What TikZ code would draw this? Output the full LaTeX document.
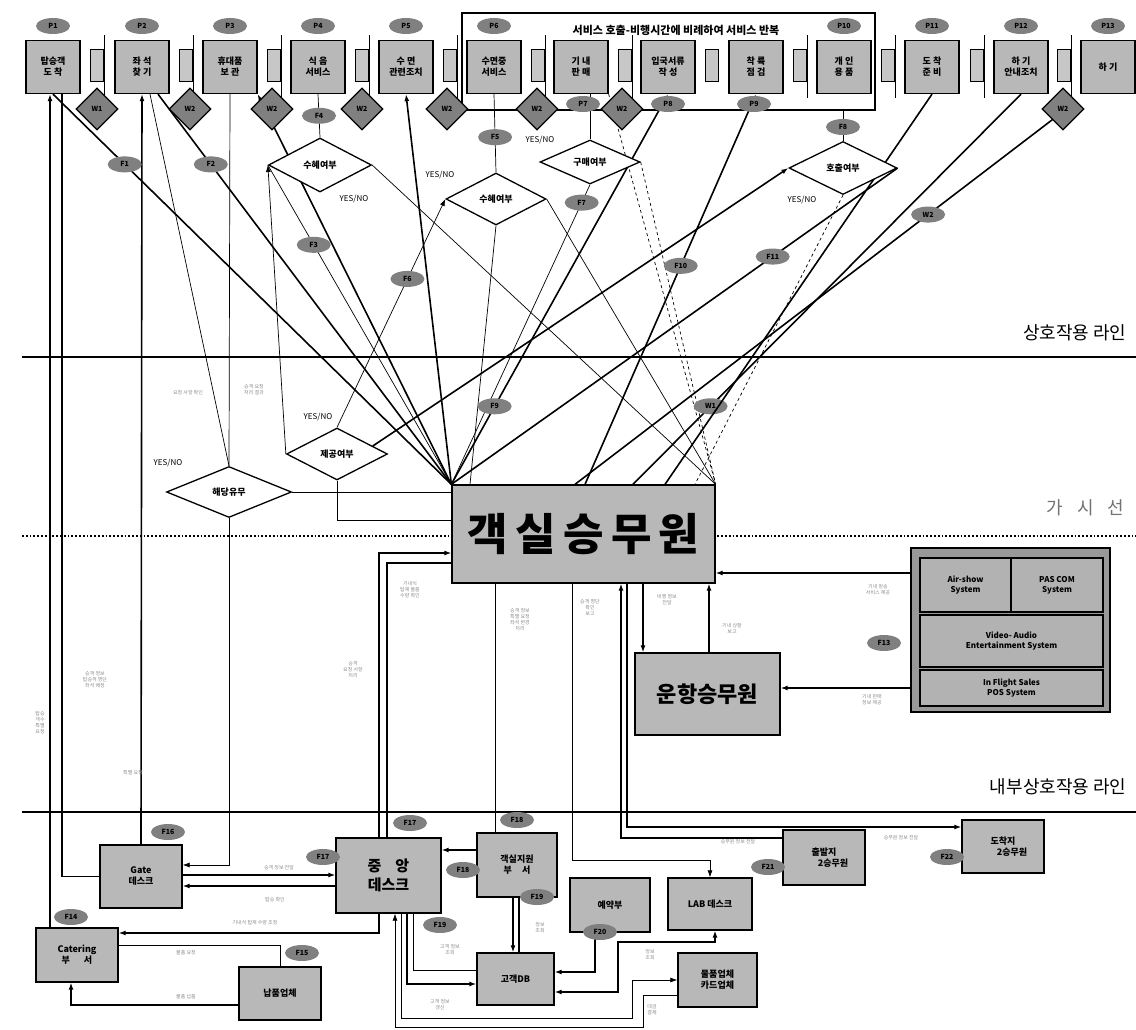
\documentclass[tikz,border=0pt]{standalone}
\usepackage{fontspec}
\setmainfont{Noto Sans CJK KR}
\usetikzlibrary{arrows.meta,calc,positioning,shapes.geometric}
\pgfdeclarelayer{back}
\pgfsetlayers{back,main}

\tikzset{
  procbox/.style={draw,line width=1.3pt,fill=black!28,align=center,inner sep=1pt,
    font=\fontsize{9}{11}\selectfont\bfseries},
  codeblob/.style={ellipse,fill=black!50,inner sep=0.5pt,minimum width=34,minimum height=16,
    font=\fontsize{7}{7}\selectfont\bfseries},
  waitdia/.style={diamond,draw,line width=1.2pt,fill=black!50,minimum size=42,inner sep=0pt,
    font=\fontsize{7}{7}\selectfont\bfseries},
  waitbar/.style={draw,line width=1pt,fill=black!22,minimum width=13,minimum height=32,inner sep=0pt},
  decide/.style={diamond,draw,line width=1.3pt,fill=white,aspect=2,inner sep=0pt,
    font=\fontsize{9}{10}\selectfont\bfseries},
  sysbox/.style={draw,line width=1.2pt,fill=black!30,align=center,inner sep=1pt,
    font=\fontsize{8}{10}\selectfont\bfseries},
  yesno/.style={font=\fontsize{8}{8}\selectfont},
  faint/.style={text=black!45,align=center,font=\fontsize{5}{6}\selectfont},
  lanelabel/.style={anchor=east,font=\fontsize{18}{18}\selectfont},
  flow/.style={line width=0.7pt},
  heavy/.style={line width=1.6pt},
  lane/.style={line width=2pt},
}

\begin{document}
\begin{tikzpicture}[x=1pt,y=-1pt,>={Latex[length=7pt,width=5pt]}]
\useasboundingbox (0,0) rectangle (1136,1030);

% service steps
\draw[line width=1.5pt] (462,13) rectangle (875,110);
\node[font=\fontsize{11}{12}\selectfont\bfseries] (repeat) at (676,30) {서비스 호출-비행시간에 비례하여 서비스 반복};
\foreach \n/\x/\t in {1/53/{탑승객\\도 착},2/142/{좌 석\\찾 기},3/230/{휴대품\\보 관},4/318/{식 음\\서비스},
    5/406/{수 면\\관련조치},6/494/{수면중\\서비스},7/581/{기 내\\판 매},8/668/{입국서류\\작 성},
    9/756/{착 륙\\점 검},10/844/{개 인\\용 품},11/932/{도 착\\준 비},12/1021/{하 기\\안내조치},13/1108/{하 기}}
  \node[procbox,minimum width=54,minimum height=53] (b\n) at (\x,67) {\t};
\foreach \n/\x in {1/53,2/142,3/230,4/318,5/406,6/494,10/844,11/932,12/1021,13/1108}
  \node[codeblob] (p\n) at (\x,26) {P\n};
\foreach \n/\x in {7/583,8/668,9/754}
  \node[codeblob] (p\n) at (\x,104) {P\n};
\foreach \n/\x in {1/97,2/186,3/274,4/362,5/450,6/538,7/625,8/712,9/800,10/888,11/977,12/1064}
  \node[waitbar] (wb\n) at (\x,66) {};
\foreach \n in {1,...,7,9,10,11,12}
  \draw[line width=1pt] ([yshift=14pt]wb\n.north east) -- ([yshift=-16pt]wb\n.south east);
\node[waitdia] (wd1) at (97,109) {W1};
\foreach \n/\x in {2/190,3/272,4/362,5/447,6/537,7/622,12/1063}
  \node[waitdia] (wd\n) at (\x,109) {W2};

% decisions
\node[decide,minimum width=103,minimum height=54] (sh1) at (320,165) {수혜여부};
\node[decide,minimum width=100,minimum height=52] (sh2) at (496,199) {수혜여부};
\node[decide,minimum width=100,minimum height=44] (buy) at (590,162) {구매여부};
\node[decide,minimum width=108,minimum height=53] (call) at (843,168) {호출여부};
\node[decide,minimum width=101,minimum height=52] (offer) at (337,454) {제공여부};
\node[decide,minimum width=125,minimum height=51] (match) at (229,492) {해당유무};
\node[yesno] (yn1) at (354,199) {YES/NO};
\node[yesno] (yn2) at (440,175) {YES/NO};
\node[yesno] (yn3) at (540,140) {YES/NO};
\node[yesno] (yn4) at (802,200) {YES/NO};
\node[yesno] (yn5) at (318,417) {YES/NO};
\node[yesno] (yn6) at (168,463) {YES/NO};

% crew and systems
\node[procbox,minimum width=263,minimum height=98,font=\fontsize{44}{48}\selectfont\bfseries] (cabin) at (583.5,534) {객\,실\,승\,무\,원};
\node[procbox,minimum width=145,minimum height=82,font=\fontsize{22}{24}\selectfont\bfseries] (pilot) at (707.5,694) {운항승무원};
\node[draw,line width=1.4pt,fill=black!40,minimum width=199,minimum height=164] (sys) at (1010.5,630) {};
\node[sysbox,minimum width=91,minimum height=54] (airshow) at (965.5,585) {Air-show\\System};
\node[sysbox,minimum width=92,minimum height=54] (pascom) at (1057,585) {PAS COM\\System};
\node[sysbox,minimum width=183,minimum height=52] (video) at (1011.5,641) {Video- Audio\\Entertainment System};
\node[sysbox,minimum width=183,minimum height=36] (sales) at (1011.5,688) {In Flight Sales\\POS System};
\node[codeblob] (f13) at (884,643) {F13};

% back office
\node[procbox,minimum width=82,minimum height=63] (gate) at (141,876.5) {Gate\\데스크};
\node[procbox,minimum width=105,minimum height=75,font=\fontsize{15}{19}\selectfont\bfseries] (central) at (388.5,875.5) {중\hspace{14pt}앙\\데스크};
\node[procbox,minimum width=80,minimum height=64] (cabsup) at (517,865) {객실지원\\부\hspace{10pt}서};
\node[procbox,minimum width=82,minimum height=54] (catering) at (77,955) {Catering\\부\hspace{14pt}서};
\node[procbox,minimum width=82,minimum height=53] (supplier) at (280,993.5) {납품업체};
\node[procbox,minimum width=77,minimum height=52] (custdb) at (515.5,979) {고객DB};
\node[procbox,minimum width=80,minimum height=54] (reserve) at (610,905) {예약부};
\node[procbox,minimum width=84,minimum height=52] (lab) at (710,904) {LAB 데스크};
\node[procbox,minimum width=79,minimum height=54] (vendor) at (717.5,980) {물품업체\\카드업체};
\node[procbox,minimum width=82,minimum height=55] (depart) at (824,857.5) {출발지\\\hspace*{18pt}2승무원};
\node[procbox,minimum width=82,minimum height=53] (arrive) at (1003,846.5) {도착지\\\hspace*{18pt}2승무원};
\node[codeblob] (f14) at (71,917) {F14};
\node[codeblob] (f15) at (302,953) {F15};
\node[codeblob] (f16) at (168,832) {F16};
\node[codeblob] (f17t) at (410,823) {F17};
\node[codeblob] (f17l) at (323,857) {F17};
\node[codeblob] (f18t) at (517,820) {F18};
\node[codeblob] (f18l) at (463,870) {F18};
\node[codeblob] (f19r) at (537,897) {F19};
\node[codeblob] (f19b) at (440,925) {F19};
\node[codeblob] (f20) at (600,932) {F20};
\node[codeblob] (f21) at (768,867) {F21};
\node[codeblob] (f22) at (947,857) {F22};

% lane labels
\node[lanelabel] (lineA) at (1130,333) {상호작용 라인};
\node[lanelabel,text=black!55] (lineB) at (1128,508) {가\hspace{14pt}시\hspace{14pt}선};
\node[lanelabel] (lineC) at (1130,787) {내부상호작용 라인};

% small flow notes
\foreach \x/\y/\t in {188/393/{요청 사항 확인},254/390/{승객 요청\\처리 결과},95/680/{승객 정보\\탑승객 명단\\좌석 배정},
    40/723/{탑승\\객수\\특별\\요청},133/773/{특별 요청},353/670/{승객\\요청 사항\\처리},410/590/{기내식\\탑재 물품\\수량 확인},
    520/620/{승객 정보\\특별 요청\\좌석 변경\\처리},590/607/{승객 명단\\확인\\보고},667/600/{비행 정보\\전달},
    732/628/{기내 상황\\보고},878/590/{기내 방송\\서비스 제공},872/700/{기내 판매\\정보 제공},279/868/{승객 정보 전달},
    275/900/{탑승 확인},255/923/{기내식 탑재 수량 조정},186/953/{물품 요청},186/997/{물품 납품},
    738/842/{승무원 정보 전달},901/838/{승무원 정보 전달},450/950/{고객 정보\\조회},540/928/{정보\\조회},
    440/1005/{고객 정보\\갱신},650/955/{정보\\조회},652/1010/{대금\\결제}}
  \node[faint] at (\x,\y) {\t};

\begin{pgfonlayer}{back}
  % lanes
  \draw[lane] (22,357) -- (1136,357);
  \draw[dotted,line width=1.8pt] (22,536) -- (1136,536);
  \draw[lane] (22,812) -- (1136,812);

  % verticals to the step row
  \draw[heavy,->] (catering.north -| 50,0) -- (b1.south -| 50,0);
  \draw[heavy] (gate.west) -| (b1.south -| 62,0);
  \draw[heavy,->] (gate.north) -- (b2.south);
  \draw[flow] (b3.south) -- (match.north);
  \draw[flow,->] (match.south) |- (gate.east |- 0,865);
  \draw[flow] (match.north) -- (b2.south -| 150,0);
  \draw[flow] (match.east) -- (match.east -| cabin.west);
  \draw[flow] (offer.south) |- (cabin.west |- 0,520);
  \draw[flow,->] (offer.west) -- (sh1.west);
  \draw[flow,->] (offer.north) -- (sh2.west) node[codeblob,pos=.65] (f6) {F6};
  \draw[heavy,->] ($(offer.north east)!0.4!(offer.east)$) -- (call.west);
  \draw[flow] (sh1.north) -- (b4.south) node[codeblob,pos=.5] (f4) {F4};
  \draw[flow] (sh2.north) -- (b6.south) node[codeblob,pos=.45] (f5) {F5};
  \draw[flow] (buy.north) -- (buy.north |- b7.south);
  \draw[flow] (call.north) -- (call.north |- 0,110) node[codeblob,pos=.45] (f8) {F8};

  % fan from the cabin crew
  \draw[heavy] (b1.south) -- (cabin.north west) node[codeblob,pos=.18] (f1) {F1};
  \draw[heavy] (b2.south -| 158,0) -- (cabin.north west) node[codeblob,pos=.18] (f2) {F2};
  \draw[heavy,->] (cabin.north west) -- (b3.south east);
  \draw[heavy,->] (cabin.north west) -- (b5.south);
  \draw[flow] (sh1.west) -- (cabin.north west) node[codeblob,pos=.25] (f3) {F3};
  \draw[flow] (sh1.east) -- (cabin.north east);
  \draw[flow] (sh2.east) -- (cabin.north east);
  \draw[flow] (sh2.south) -- (cabin.north -| 470,0);
  \draw[flow] (buy.south) -- (cabin.north west) node[codeblob,pos=.06] (f7) {F7};
  \draw[flow,dashed] (buy.east) -- (cabin.north east);
  \draw[flow,dashed] (b7.south east) -- (cabin.north east);
  \draw[flow,dashed] (call.south) -- (cabin.north -| 695,0);
  \draw[heavy,->] (cabin.north west) -- (b8.south) node[codeblob,pos=.2] (f9) {F9};
  \draw[heavy,->] (cabin.north -| 585,0) -- (b9.south) node[codeblob,pos=.56] (f10) {F10};
  \draw[heavy] (call.east) -- (cabin.north west) node[codeblob,pos=.28] (f11) {F11};
  \draw[heavy] (wd12.south west) -- (cabin.north -| 575,0) node[codeblob,pos=.26] (f12) {W2};
  \draw[heavy] (b12.south) -- (cabin.north -| 633,0) node[codeblob,pos=.8] (f12b) {W1};
  \draw[heavy] (b11.south) -- (cabin.north -| 665,0);

  % cabin crew, cockpit and systems
  \draw[heavy,->] (central.north -| 379,0) |- (cabin.west |- 0,553);
  \draw[heavy] (central.north -| 387,0) |- (cabin.west |- 0,563);
  \draw[heavy,->] (cabin.south -| 643,0) -- (pilot.north -| 643,0);
  \draw[heavy,->] (pilot.north -| 709,0) -- (cabin.south -| 709,0);
  \draw[heavy,->] (sys.west |- 0,573) -- (cabin.east |- 0,573);
  \draw[heavy,->] (sys.west |- 0,688) -- (pilot.east |- 0,688);
  \draw[flow] (cabin.south -| 495,0) -- (cabsup.north -| 495,0);
  \draw[flow,->] (cabin.south -| 572,0) |- (lab.north |- 0,860) -- (lab.north);
  \draw[heavy,->] (cabin.south -| 627,0) |- (arrive.west |- 0,827);
  \draw[heavy,->] (depart.west |- 0,838) -| (cabin.south -| 621,0);

  % back office links
  \draw[heavy,->] (cabsup.west |- 0,850) -- (central.east |- 0,850);
  \draw[heavy,->] (cabsup.south -| 513,0) -- (custdb.north -| 513,0);
  \draw[heavy] (cabsup.south -| 519,0) -- (custdb.north -| 519,0);
  \draw[heavy,->] (gate.east |- 0,875) -- (central.west |- 0,875);
  \draw[heavy,->] (central.west |- 0,886) -- (gate.east |- 0,886);
  \draw[heavy,->] (central.south -| 379,0) |- (catering.east |- 0,933);
  \draw[flow] (supplier.north) |- (catering.east |- 0,945);
  \draw[heavy,->] (supplier.west |- 0,1005) -| (catering.south -| 71,0);
  \draw[flow] (central.south -| 413,0) |- (custdb.west |- 0,970);
  \draw[heavy,->] (central.south -| 407,0) |- (custdb.west |- 0,984);
  \draw[flow,->] (central.south -| 401,0) |- (632,1018) |- (vendor.west |- 0,980);
  \draw[flow,->] (vendor.west |- 0,995) -| (643,1027) -| (central.south -| 395,0);
  \draw[heavy,->] (reserve.south -| 595,0) |- (custdb.east |- 0,972);
  \draw[heavy,<->] (lab.south -| 715,0) |- (618,942) |- (custdb.east |- 0,992);
\end{pgfonlayer}
\end{tikzpicture}
\end{document}
